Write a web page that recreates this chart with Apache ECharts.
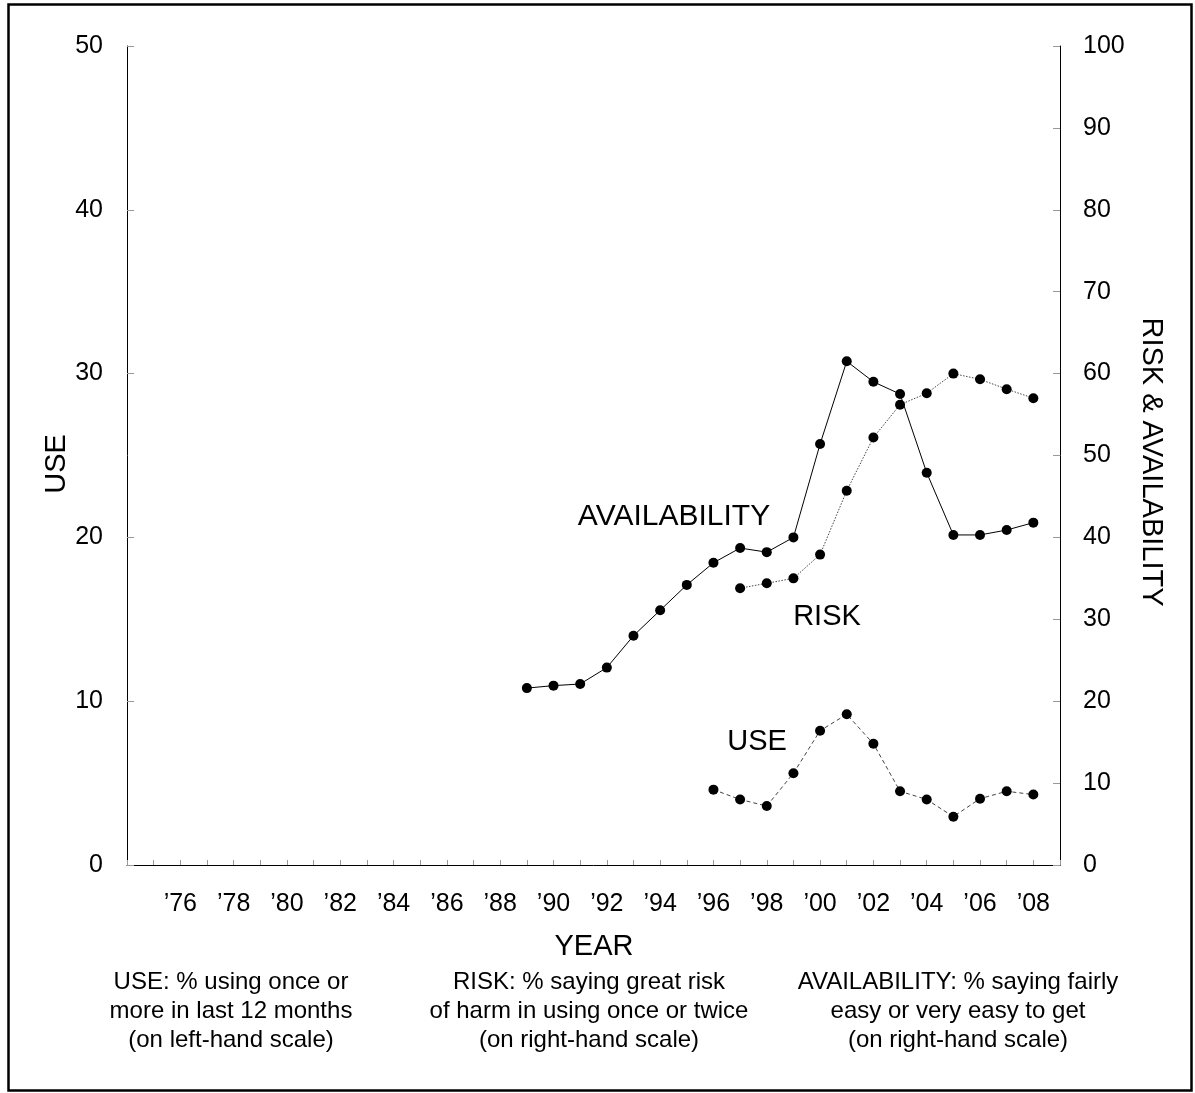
<!DOCTYPE html>
<html>
<head>
<meta charset="utf-8">
<script src="https://cdn.jsdelivr.net/npm/echarts@6/dist/echarts.min.js"></script>
<style>
html,body{margin:0;padding:0;background:#fff;}
#chart{width:1195px;height:1093px;}
</style>
</head>
<body>
<div id="chart"></div>
<script>
// ---- data ----
var availYears = [1989,1990,1991,1992,1993,1994,1995,1996,1997,1998,1999,2000,2001,2002,2003,2004,2005,2006,2007,2008];
var availability = [21.6,21.9,22.1,24.1,28.0,31.1,34.2,36.9,38.7,38.2,40.0,51.4,61.5,59.0,57.5,47.9,40.3,40.3,40.9,41.8];
var riskYears = [1997,1998,1999,2000,2001,2002,2003,2004,2005,2006,2007,2008];
var risk = [33.8,34.4,35.0,37.9,45.7,52.2,56.2,57.6,60.0,59.3,58.1,57.0];
var useYears = [1996,1997,1998,1999,2000,2001,2002,2003,2004,2005,2006,2007,2008];
var use = [4.6,4.0,3.6,5.6,8.2,9.2,7.4,4.5,4.0,2.95,4.05,4.5,4.3];
var xTickLabelYears = [1976,1978,1980,1982,1984,1986,1988,1990,1992,1994,1996,1998,2000,2002,2004,2006,2008];
var leftTicks = [0,10,20,30,40,50];
var rightTicks = [0,10,20,30,40,50,60,70,80,90,100];

function pairs(xs, ys){ return xs.map(function(x,i){ return [x, ys[i]]; }); }

var FONT = '"Liberation Sans", Arial, sans-serif';
var chart = echarts.init(document.getElementById('chart'));

var option = {
  backgroundColor: '#fff',
  animation: false,
  grid: {left:127, right:135, top:46, bottom:228, containLabel:false},
  xAxis: {
    type:'value', min:1974, max:2009, interval:1,
    axisLine:{show:true, lineStyle:{color:'#000', width:1}},
    axisTick:{show:true, inside:true, length:5, lineStyle:{color:'#999', width:1}},
    splitLine:{show:false},
    axisLabel:{
      margin:27, fontSize:25, color:'#000', fontFamily:FONT,
      showMinLabel:true, showMaxLabel:true,
      formatter:function(v){
        v = Math.round(v);
        if (xTickLabelYears.indexOf(v) < 0) return '';
        return '\u2019' + String(v).slice(2);
      }
    }
  },
  yAxis: [
    {
      type:'value', min:0, max:50, interval:10, position:'left',
      axisLine:{show:true, lineStyle:{color:'#000', width:1}},
      axisTick:{show:true, inside:true, length:7, lineStyle:{color:'#999', width:1}},
      splitLine:{show:false},
      axisLabel:{margin:24, fontSize:25, color:'#000', fontFamily:FONT,
        formatter:function(v){ return leftTicks.indexOf(v) >= 0 ? String(v) : ''; }}
    },
    {
      type:'value', min:0, max:100, interval:10, position:'right',
      axisLine:{show:true, lineStyle:{color:'#000', width:1}},
      axisTick:{show:true, inside:true, length:7, lineStyle:{color:'#999', width:1}},
      splitLine:{show:false},
      axisLabel:{margin:23, fontSize:25, color:'#000', fontFamily:FONT,
        formatter:function(v){ return rightTicks.indexOf(v) >= 0 ? String(v) : ''; }}
    }
  ],
  series: [
    {
      name:'AVAILABILITY', type:'line', yAxisIndex:1,
      data: pairs(availYears, availability),
      symbol:'circle', symbolSize:10, itemStyle:{color:'#000'},
      lineStyle:{color:'#000', width:1, type:'solid'}
    },
    {
      name:'RISK', type:'line', yAxisIndex:1,
      data: pairs(riskYears, risk),
      symbol:'circle', symbolSize:10, itemStyle:{color:'#000'},
      lineStyle:{color:'#444', width:1, type:[1.5,1.5]}
    },
    {
      name:'USE', type:'line', yAxisIndex:0,
      data: pairs(useYears, use),
      symbol:'circle', symbolSize:10, itemStyle:{color:'#000'},
      lineStyle:{color:'#444', width:1, type:[4,3]}
    }
  ],
  graphic: [
    {type:'rect', silent:true, z:100, shape:{x:8.5, y:4.5, width:1183, height:1086},
      style:{fill:'none', stroke:'#000', lineWidth:2.5}},
    // axis titles
    {type:'text', x:57, y:464, rotation:Math.PI/2,
      style:{text:'USE', font:'29px '+FONT, fill:'#000', textAlign:'center', textVerticalAlign:'middle'}},
    {type:'text', x:1151, y:462, rotation:-Math.PI/2,
      style:{text:'RISK & AVAILABILITY', font:'29px '+FONT, fill:'#000', textAlign:'center', textVerticalAlign:'middle'}},
    {type:'text', x:594, y:947,
      style:{text:'YEAR', font:'29px '+FONT, fill:'#000', textAlign:'center', textVerticalAlign:'middle'}},
    // series labels
    {type:'text', x:674, y:517,
      style:{text:'AVAILABILITY', font:'30px '+FONT, fill:'#000', textAlign:'center', textVerticalAlign:'middle'}},
    {type:'text', x:827, y:617,
      style:{text:'RISK', font:'29px '+FONT, fill:'#000', textAlign:'center', textVerticalAlign:'middle'}},
    {type:'text', x:757, y:742,
      style:{text:'USE', font:'29px '+FONT, fill:'#000', textAlign:'center', textVerticalAlign:'middle'}},
    // footnotes
    {type:'text', x:231, y:968,
      style:{text:'USE: % using once or\nmore in last 12 months\n(on left-hand scale)', font:'24px '+FONT, lineHeight:29, fill:'#000', textAlign:'center', textVerticalAlign:'top'}},
    {type:'text', x:589, y:968,
      style:{text:'RISK: % saying great risk\nof harm in using once or twice\n(on right-hand scale)', font:'24px '+FONT, lineHeight:29, fill:'#000', textAlign:'center', textVerticalAlign:'top'}},
    {type:'text', x:958, y:968,
      style:{text:'AVAILABILITY: % saying fairly\neasy or very easy to get\n(on right-hand scale)', font:'24px '+FONT, lineHeight:29, fill:'#000', textAlign:'center', textVerticalAlign:'top'}}
  ]
};
chart.setOption(option);
</script>
</body>
</html>
